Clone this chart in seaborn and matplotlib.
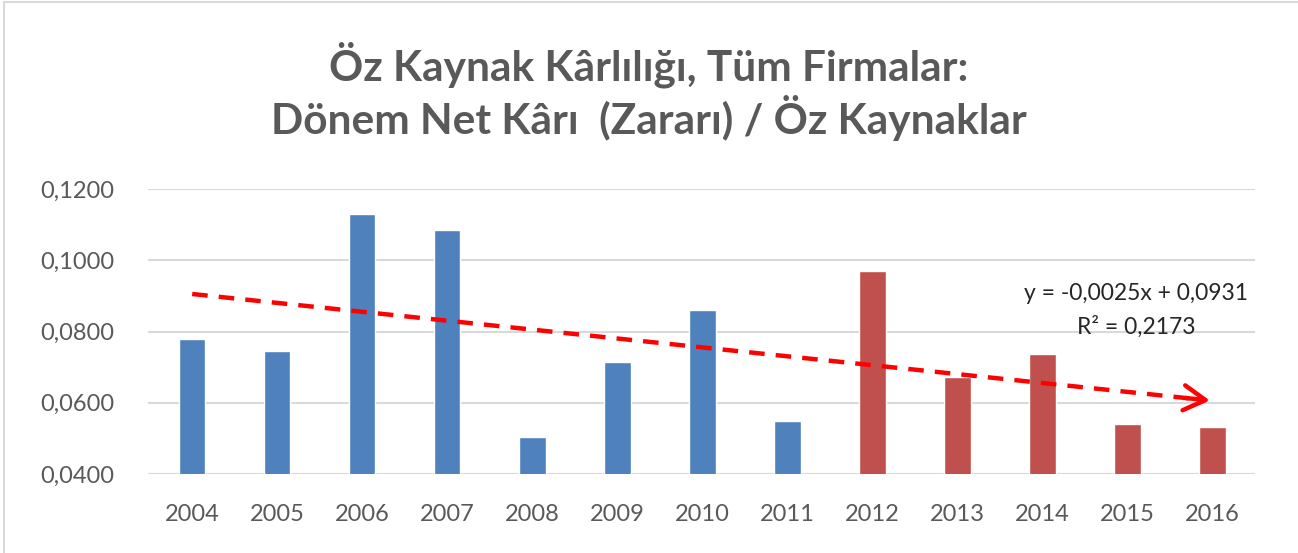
import numpy as np
import pandas as pd
import matplotlib
matplotlib.use("Agg")
import matplotlib.pyplot as plt
import seaborn as sns

# data
years = ["2004", "2005", "2006", "2007", "2008", "2009", "2010",
         "2011", "2012", "2013", "2014", "2015", "2016"]
values = [0.0780, 0.0744, 0.1131, 0.1086, 0.0504, 0.0714, 0.0860,
          0.0548, 0.0971, 0.0671, 0.0738, 0.0540, 0.0533]
period = ["a"] * 8 + ["b"] * 5
bar_colors = {"a": "#4f81bd", "b": "#c0504d"}
title = "Öz Kaynak Kârlılığı, Tüm Firmalar:\nDönem Net Kârı  (Zararı) / Öz Kaynaklar"
eq_text = "y = -0,0025x + 0,0931\nR² = 0,2173"
yticks = [0.04, 0.06, 0.08, 0.10, 0.12]

sns.set_theme(style="white")
plt.rcParams['font.family'] = ['Lato', 'DejaVu Sans']

df = pd.DataFrame({"year": years, "value": values, "period": period})

fig = plt.figure(figsize=(12.98, 5.53), dpi=100)
ax = fig.add_axes([0.114, 0.143, 0.853, 0.515])

sns.barplot(data=df, x="year", y="value", hue="period", palette=bar_colors,
            dodge=False, width=0.31, legend=False, ax=ax, saturation=1)

# linear trend (Excel style, x = 1..n)
xs = np.arange(1, len(values) + 1)
slope, intercept = np.polyfit(xs, values, 1)
pos = np.arange(len(values))
trend = slope * xs + intercept
ax.plot(pos[:-1].tolist() + [pos[-1] - 0.15], list(trend[:-1]) + [slope * (xs[-1] - 0.15) + intercept],
        color="#ff0000", lw=3.2, ls=(0, (3.5, 2.5)), zorder=5)
ax.annotate("", xy=(pos[-1], trend[-1]), xytext=(pos[-1] - 0.35, slope * (xs[-1] - 0.35) + intercept),
            arrowprops=dict(arrowstyle="->,head_length=1.3,head_width=0.75",
                            color="#ff0000", lw=3.2), zorder=6)

ax.text(11.1, 0.0860, eq_text, ha="center", va="center", fontsize=16.5,
        color="#262626", linespacing=1.65)

ax.set_ylim(0.04, 0.12)
ax.set_xlim(-0.52, 12.5)
ax.set_yticks(yticks)
ax.set_yticklabels([f"{v:.4f}".replace(".", ",") for v in yticks])
ax.yaxis.grid(True, color="#d9d9d9", lw=1.5)
ax.set_axisbelow(True)
for s in ax.spines.values():
    s.set_visible(False)
ax.tick_params(axis="both", length=0, labelsize=17, colors="#595959")
ax.tick_params(axis="y", pad=24)
ax.tick_params(axis="x", pad=22)
ax.set_xlabel("")
ax.set_ylabel("")

fig.text(0.5, 0.835, title, ha="center", va="center", fontsize=30.5,
         fontweight="bold", color="#595959", linespacing=1.2)

# chart area border
fig.add_artist(plt.Line2D([0.003, 0.003], [0, 0.997], color="#d9d9d9", lw=1.5))
fig.add_artist(plt.Line2D([0.003, 1], [0.997, 0.997], color="#d9d9d9", lw=1.5))

fig.savefig("out.png", dpi=100)
